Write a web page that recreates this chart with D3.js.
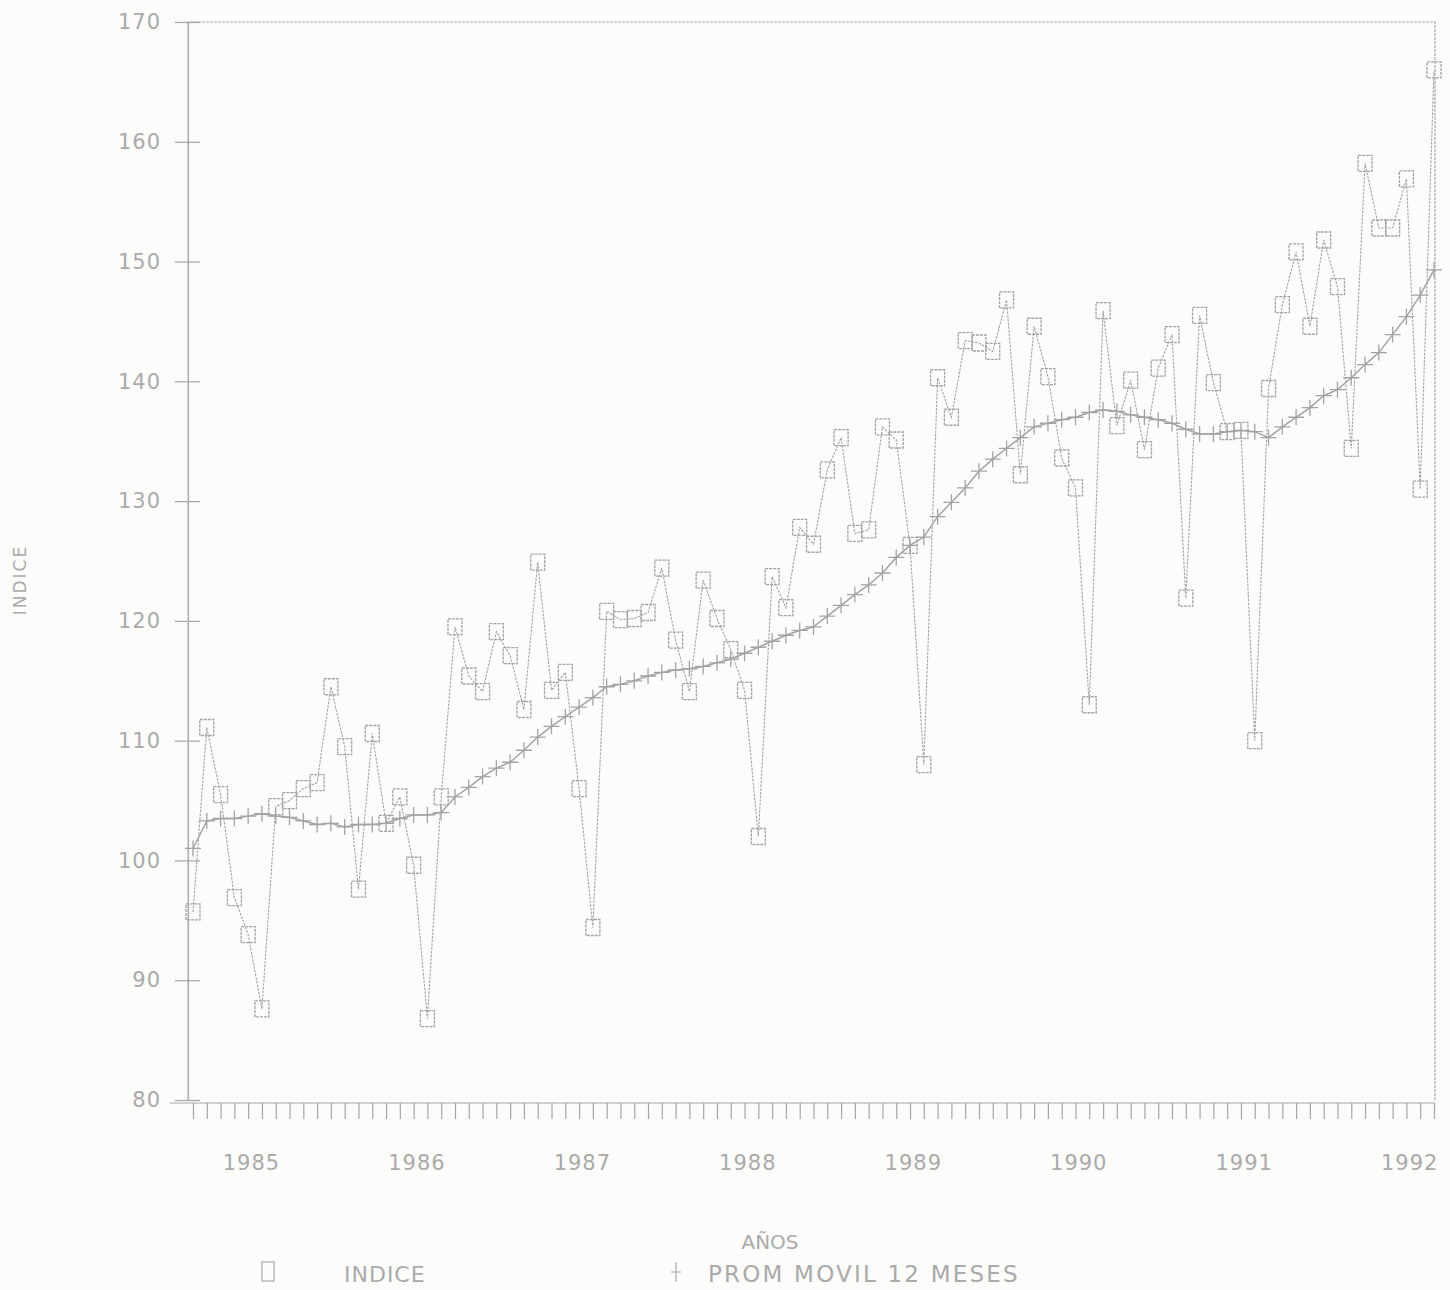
<!DOCTYPE html>
<html>
<head>
<meta charset="utf-8">
<script src="https://cdn.jsdelivr.net/npm/d3@7"></script>
<style>
    body { margin: 0; background: #fcfcfa; }
    svg { display: block; }
    text { font-family: 'DejaVu Sans', sans-serif; fill: #aaa; }
</style>
</head>
<body>
<div id="chart"></div>
<script>
// --- Data (monthly, Jan 1985 .. Jul 1992) ---
const firstYear = 1985;
const years = [1985, 1986, 1987, 1988, 1989, 1990, 1991, 1992];
const yTicks = [80, 90, 100, 110, 120, 130, 140, 150, 160, 170];

const indice = [
    95.7, 111.1, 105.5, 96.9, 93.8, 87.6, 104.5, 105.0, 106.0, 106.5, 114.5, 109.5,
    97.6, 110.6, 103.1, 105.3, 99.6, 86.8, 105.3, 119.5, 115.4, 114.1, 119.1, 117.1,
    112.6, 124.9, 114.2, 115.7, 106.0, 94.4, 120.8, 120.1, 120.2, 120.7, 124.4, 118.4,
    114.1, 123.4, 120.2, 117.6, 114.2, 102.0, 123.7, 121.1, 127.8, 126.4, 132.6, 135.3,
    127.3, 127.6, 136.2, 135.1, 126.3, 108.0, 140.3, 137.0, 143.4, 143.2, 142.5, 146.8,
    132.2, 144.6, 140.4, 133.6, 131.1, 113.0, 145.9, 136.3, 140.1, 134.3, 141.1, 143.9,
    121.9, 145.5, 139.9, 135.8, 135.9, 110.0, 139.4, 146.4, 150.8, 144.6, 151.8, 147.9,
    134.4, 158.2, 152.8, 152.8, 156.9, 131.0, 166.0
];

const promMovil = [
    101.0, 103.3, 103.5, 103.5, 103.7, 103.9, 103.7, 103.6, 103.3, 103.0, 103.1, 102.8,
    103.0, 103.0, 103.1, 103.5, 103.8, 103.8, 104.0, 105.3, 106.1, 107.0, 107.7, 108.2,
    109.2, 110.3, 111.2, 112.0, 112.8, 113.6, 114.5, 114.7, 115.0, 115.4, 115.7, 115.9,
    116.0, 116.2, 116.5, 116.8, 117.3, 117.8, 118.3, 118.8, 119.2, 119.5, 120.4, 121.3,
    122.2, 123.0, 124.0, 125.3, 126.3, 127.0, 128.7, 129.9, 131.1, 132.5, 133.5, 134.4,
    135.3, 136.2, 136.5, 136.8, 137.0, 137.4, 137.6, 137.5, 137.2, 137.0, 136.8, 136.5,
    136.0, 135.6, 135.6, 135.8, 135.9, 135.8, 135.3, 136.2, 137.0, 137.8, 138.8, 139.3,
    140.3, 141.4, 142.4, 143.9, 145.4, 147.2, 149.3
];

// --- Layout ---
const W = 1450, H = 1290;
const frame = { left: 188, right: 1435, top: 22, bottom: 1100 };
const ink = '#a3a3a3';

const svg = d3.select('#chart')
    .append('svg')
    .attr('width', W)
    .attr('height', H);

const months = d3.range(indice.length);

const x = d3.scaleLinear()
    .domain([0, months.length - 1])
    .range([193, 1434]);

const y = d3.scaleLinear()
    .domain([80, 170])
    .range([frame.bottom, frame.top]);

// Frame (top + right + left)
svg.append('path')
    .attr('d', `M${frame.left},${frame.bottom} V${frame.top} H${frame.right} V${frame.bottom}`)
    .attr('fill', 'none')
    .attr('stroke', '#aaa')
    .attr('stroke-width', 1.2)
    .attr('stroke-dasharray', '3,1');

// Y axis: cross ticks with labels
svg.append('g')
    .attr('transform', `translate(${frame.left},0)`)
    .call(d3.axisLeft(y).tickValues(yTicks).tickSize(13).tickPadding(14))
    .call(g => g.select('.domain').attr('stroke-dasharray', '3,1'));
svg.append('g')
    .attr('transform', `translate(${frame.left},0)`)
    .call(d3.axisRight(y).tickValues(yTicks).tickSize(12).tickFormat(''))
    .call(g => g.select('.domain').remove());

// X axis: monthly ticks
const xAxis = svg.append('g')
    .attr('transform', `translate(0,${frame.bottom + 3})`)
    .call(d3.axisBottom(x).tickValues(months).tickSize(16).tickFormat(''));
xAxis.select('.domain').attr('d', `M170,0H${frame.right}`);

// Year labels (placed around May of each year)
svg.append('g')
    .attr('transform', `translate(0,${frame.bottom + 52})`)
    .call(d3.axisBottom(x)
        .tickValues(years.map(yr => (yr - firstYear) * 12 + 4.2))
        .tickSize(0)
        .tickFormat((d, i) => years[i]))
    .call(g => g.select('.domain').remove());

svg.selectAll('.tick line, .domain')
    .attr('stroke', '#a5a5a5')
    .attr('stroke-width', 1.2);
svg.selectAll('.tick text')
    .attr('fill', '#b0b0b0')
    .style('font-size', '21px')
    .style('font-family', 'DejaVu Sans')
    .style('letter-spacing', '1px');

// Lines
const lineOf = d3.line()
    .x((d, i) => x(i))
    .y(d => y(d));

svg.append('path')
    .datum(indice)
    .attr('d', lineOf)
    .attr('fill', 'none')
    .attr('stroke', ink)
    .attr('stroke-width', 1.1)
    .attr('stroke-dasharray', '2.5,1.2');

svg.append('path')
    .datum(promMovil)
    .attr('d', lineOf)
    .attr('fill', 'none')
    .attr('stroke', ink)
    .attr('stroke-width', 1.5);

// Square markers (INDICE)
svg.selectAll('.sq')
    .data(indice)
    .enter()
    .append('rect')
    .attr('class', 'sq')
    .attr('x', (d, i) => x(i) - 7)
    .attr('y', d => y(d) - 8)
    .attr('width', 14)
    .attr('height', 16)
    .attr('fill', 'none')
    .attr('stroke', ink)
    .attr('stroke-width', 1.3)
    .attr('stroke-dasharray', '3,1');

// Plus markers (moving average)
svg.selectAll('.plus')
    .data(promMovil)
    .enter()
    .append('path')
    .attr('class', 'plus')
    .attr('d', (d, i) => `M${x(i) - 8},${y(d)}h16M${x(i)},${y(d) - 8}v16`)
    .attr('stroke', ink)
    .attr('stroke-width', 1.3);

// Axis titles
svg.append('text')
    .attr('transform', 'translate(26,580) rotate(-90)')
    .attr('text-anchor', 'middle')
    .style('font-size', '17px')
    .style('letter-spacing', '2px')
    .text('INDICE');

svg.append('text')
    .attr('x', 770)
    .attr('y', 1249)
    .attr('text-anchor', 'middle')
    .style('font-size', '20px')
    .text('AÑOS');

// Legend
const legend = svg.append('g');
legend.append('rect')
    .attr('x', 262).attr('y', 1262)
    .attr('width', 12).attr('height', 19)
    .attr('fill', 'none').attr('stroke', '#aaa').attr('stroke-width', 1.2);
legend.append('text')
    .attr('x', 344).attr('y', 1282)
    .style('font-size', '22px')
    .style('letter-spacing', '1px')
    .text('INDICE');
legend.append('path')
    .attr('d', 'M671,1272h10M676,1262v20')
    .attr('stroke', '#aaa').attr('stroke-width', 1.2);
legend.append('text')
    .attr('x', 708).attr('y', 1282)
    .style('font-size', '23px')
    .style('letter-spacing', '2.2px')
    .text('PROM MOVIL 12 MESES');
</script>
</body>
</html>
